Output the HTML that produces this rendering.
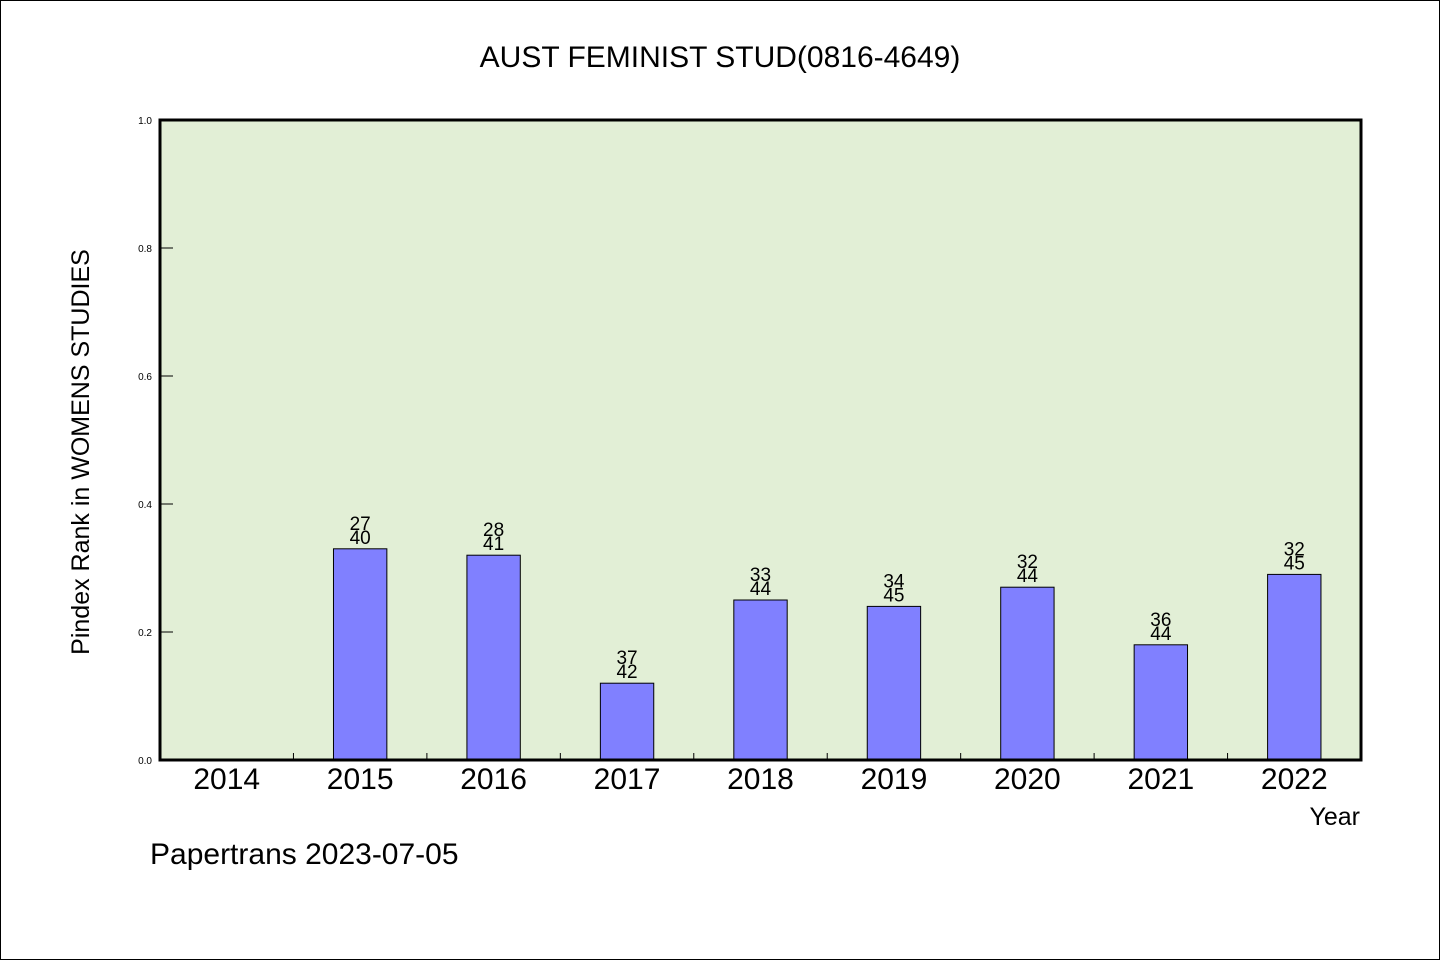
<!DOCTYPE html>
<html><head><meta charset="utf-8"><style>
html,body{margin:0;padding:0;background:#fff}
svg{display:block}
text{font-family:"WenQuanYi Zen Hei","Liberation Sans",sans-serif;fill:#000}
</style></head><body>
<svg id="chart" width="1440" height="960" viewBox="0 0 1440 960">
<rect x="0.5" y="0.5" width="1439" height="959" fill="#fff" stroke="#000"/>
<text x="720" y="67" font-size="30" text-anchor="middle">AUST FEMINIST STUD(0816-4649)</text>
<rect x="160" y="120" width="1201" height="640" fill="#e2efd6"/>
<g id="marks"></g>
<rect x="160" y="120" width="1201" height="640" fill="none" stroke="#000" stroke-width="3"/>
<text transform="translate(89,452) rotate(-90)" font-size="25" text-anchor="middle">Pindex Rank in WOMENS STUDIES</text>
<text x="1360" y="825" font-size="25" text-anchor="end">Year</text>
<text x="150" y="864" font-size="30">Papertrans 2023-07-05</text>
</svg>
<script>
const categories = ["2014","2015","2016","2017","2018","2019","2020","2021","2022"];
const values = [null,0.33,0.32,0.12,0.25,0.24,0.27,0.18,0.29];
const ranks = ["", "27","28","37","33","34","32","36","32"];
const totals = ["", "40","41","42","44","45","44","44","45"];
const yTicks = [0,0.2,0.4,0.6,0.8,1.0];
const yTickLabels = ["0.0","0.2","0.4","0.6","0.8","1.0"];

const X0=160, X1=1361, Y0=760, Y1=120;
const slot=(X1-X0)/categories.length;
const xc=i=>X0+slot*(i+0.5);
const y=v=>Y0-(v)*(Y0-Y1);
const NS="http://www.w3.org/2000/svg";
const g=document.getElementById('marks');
function mk(tag,attrs){const e=document.createElementNS(NS,tag);for(const k in attrs)e.setAttribute(k,attrs[k]);g.appendChild(e);return e;}

yTicks.forEach((t,i)=>{
  const l=mk('line',{x1:X0,x2:X0+13,y1:y(t),y2:y(t),stroke:'#000','stroke-width':1});
  
  
  const tx=mk('text',{x:X0-8,y:y(t)+4,'font-size':10,'text-anchor':'end'});
  tx.textContent=yTickLabels[i];
  
  
});
for(let i=1;i<categories.length;i++){
  const xx=X0+slot*i;
  const l=mk('line',{x1:xx,x2:xx,y1:Y0,y2:Y0-7,stroke:'#000','stroke-width':1});
  
  
}
categories.forEach((c,i)=>{
  const tx=mk('text',{x:xc(i),y:789,'font-size':30,'text-anchor':'middle'});
  tx.textContent=c;
  
  
  const v=values[i];
  if(v==null)return;
  const bw=slot*0.4;
  const r=mk('rect',{x:xc(i)-bw/2,y:y(v),width:bw,height:Y0-y(v),fill:'#8080ff',stroke:'#000','stroke-width':1});
  
  
  const a=mk('text',{x:xc(i),y:y(v)-19,'font-size':19,'text-anchor':'middle'});
  a.textContent=ranks[i];
  
  
  const b=mk('text',{x:xc(i),y:y(v)-5,'font-size':19,'text-anchor':'middle'});
  b.textContent=totals[i];
  
  
});
</script>
</body></html>
